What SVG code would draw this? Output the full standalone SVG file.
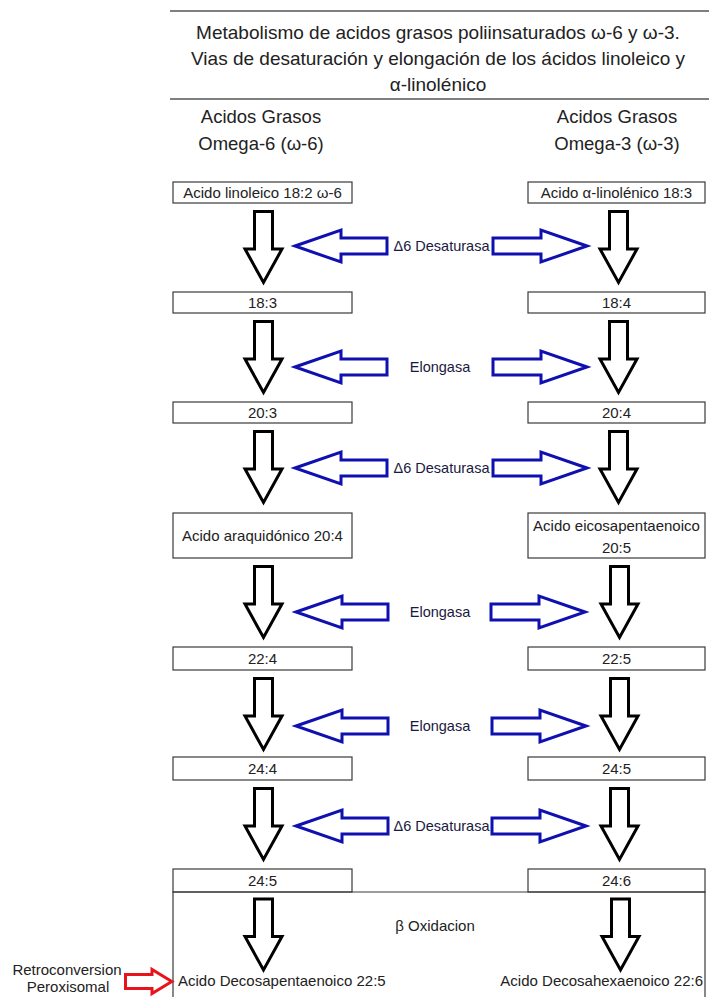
<svg xmlns="http://www.w3.org/2000/svg" xmlns:xlink="http://www.w3.org/1999/xlink" width="709" height="997" viewBox="0 0 709 997">
<style>
  text { font-family: "Liberation Sans", Arial, sans-serif; fill: #222; }
  .title { font-size: 18.5px; text-anchor: middle; }
  .big { font-size: 19px; }
  .box { fill: #fff; stroke: #3a3a3a; stroke-width: 1.2; }
  .bt { font-size: 15px; text-anchor: middle; }
  .lbl { font-size: 14.5px; text-anchor: middle; fill: #1a1a40; }
  .rule { stroke: #555; stroke-width: 1.5; }
  .down { fill: #fff; stroke: #000; stroke-width: 3; stroke-linejoin: miter; }
  .blue { fill: #fff; stroke: #1010b0; stroke-width: 3; stroke-linejoin: miter; }
  .red { fill: #fff; stroke: #e8141c; stroke-width: 3; stroke-linejoin: miter; }
</style>
<defs>
  <path id="dn" d="M-9,0 H9 V37.5 H18.5 L0,71 L-18.5,37.5 H-9 Z"/>
  <path id="lf" d="M0,0 L46,-16 V-8 H92 V8 H46 V16 Z"/>
  <path id="rt" d="M0,0 L-46,-16 V-8 H-94 V8 H-46 V16 Z"/>
</defs>
<rect width="709" height="997" fill="#fff"/>

<g id="title">
  <line class="rule" x1="170" y1="11" x2="709" y2="11"/>
  <text class="title big" x="438" y="38.5">Metabolismo de acidos grasos poliinsaturados ω-6 y ω-3.</text>
  <text class="title big" x="438" y="65">Vias de desaturación y elongación de los ácidos linoleico y</text>
  <text class="title big" x="438" y="91">α-linolénico</text>
  <line class="rule" x1="170" y1="99" x2="709" y2="99"/>
</g>
<g id="header-w6">
  <text class="title" x="261" y="123">Acidos Grasos</text>
  <text class="title" x="261" y="150">Omega-6 (ω-6)</text>
</g>
<g id="header-w3">
  <text class="title" x="617" y="123">Acidos Grasos</text>
  <text class="title" x="617" y="150">Omega-3 (ω-3)</text>
</g>

<g id="n-linoleico"><rect class="box" x="173" y="182" width="179" height="21"/><text class="bt" x="262.5" y="197.5">Acido linoleico 18:2 ω-6</text></g>
<g id="n-alinolenico"><rect class="box" x="528" y="182" width="177" height="21"/><text class="bt" x="616.5" y="197.5">Acido α-linolénico 18:3</text></g>
<g id="n-18-3"><rect class="box" x="173" y="292" width="179" height="21"/><text class="bt" x="262.5" y="307.5">18:3</text></g>
<g id="n-18-4"><rect class="box" x="528" y="292" width="177" height="21"/><text class="bt" x="616.5" y="307.5">18:4</text></g>
<g id="n-20-3"><rect class="box" x="173" y="402" width="179" height="21"/><text class="bt" x="262.5" y="417.5">20:3</text></g>
<g id="n-20-4"><rect class="box" x="528" y="402" width="177" height="21"/><text class="bt" x="616.5" y="417.5">20:4</text></g>
<g id="n-araquidonico"><rect class="box" x="173" y="513" width="179" height="45"/><text class="bt" x="262.5" y="541">Acido araquidónico 20:4</text></g>
<g id="n-epa"><rect class="box" x="528" y="513" width="177" height="45"/><text class="bt" x="616.5" y="531">Acido eicosapentaenoico</text><text class="bt" x="616.5" y="553">20:5</text></g>
<g id="n-22-4"><rect class="box" x="173" y="647" width="179" height="23"/><text class="bt" x="262.5" y="663.5">22:4</text></g>
<g id="n-22-5"><rect class="box" x="528" y="647" width="177" height="23"/><text class="bt" x="616.5" y="663.5">22:5</text></g>
<g id="n-24-4"><rect class="box" x="173" y="757" width="179" height="23"/><text class="bt" x="262.5" y="773.5">24:4</text></g>
<g id="n-24-5r"><rect class="box" x="528" y="757" width="177" height="23"/><text class="bt" x="616.5" y="773.5">24:5</text></g>
<g id="n-24-5"><rect class="box" x="173" y="869" width="179" height="23"/><text class="bt" x="262.5" y="885.5">24:5</text></g>
<g id="n-24-6"><rect class="box" x="528" y="869" width="177" height="23"/><text class="bt" x="616.5" y="885.5">24:6</text></g>
<g id="n-oxidacion">
  <path d="M173,997 V892 H705 V997" fill="none" stroke="#3a3a3a" stroke-width="1.2"/>
  <text class="bt" x="435" y="931">β Oxidacion</text>
</g>
<g id="n-dpa"><text x="178" y="986" style="font-size:15px">Acido Decosapentaenoico 22:5</text></g>
<g id="n-dha"><text x="703" y="986" style="font-size:15px;text-anchor:end">Acido Decosahexaenoico 22:6</text></g>
<g id="n-retro">
  <text x="67" y="975" style="font-size:15px;text-anchor:middle">Retroconversion</text>
  <text x="68" y="992" style="font-size:15px;text-anchor:middle">Peroxisomal</text>
</g>

<g id="connectors">
  <use xlink:href="#dn" class="down" x="263.5" y="211.5"/>
  <use xlink:href="#dn" class="down" x="618.5" y="211.5"/>
  <use xlink:href="#dn" class="down" x="263.5" y="321.5"/>
  <use xlink:href="#dn" class="down" x="618.5" y="321.5"/>
  <use xlink:href="#dn" class="down" x="263.5" y="431.5"/>
  <use xlink:href="#dn" class="down" x="618.5" y="431.5"/>
  <use xlink:href="#dn" class="down" x="263.5" y="566.5"/>
  <use xlink:href="#dn" class="down" x="619.5" y="566.5"/>
  <use xlink:href="#dn" class="down" x="263.5" y="678.5"/>
  <use xlink:href="#dn" class="down" x="619.5" y="678.5"/>
  <use xlink:href="#dn" class="down" x="263.5" y="788.5"/>
  <use xlink:href="#dn" class="down" x="619.5" y="788.5"/>
  <use xlink:href="#dn" class="down" x="263.5" y="899"/>
  <use xlink:href="#dn" class="down" x="620.5" y="899"/>

  <use xlink:href="#lf" class="blue" x="295" y="246"/>
  <use xlink:href="#rt" class="blue" x="587" y="246"/>
  <use xlink:href="#lf" class="blue" x="295" y="367"/>
  <use xlink:href="#rt" class="blue" x="587" y="367"/>
  <use xlink:href="#lf" class="blue" x="295" y="468"/>
  <use xlink:href="#rt" class="blue" x="587" y="468"/>
  <use xlink:href="#lf" class="blue" x="296" y="612"/>
  <use xlink:href="#rt" class="blue" x="585" y="612"/>
  <use xlink:href="#lf" class="blue" x="296" y="726"/>
  <use xlink:href="#rt" class="blue" x="586" y="726"/>
  <use xlink:href="#lf" class="blue" x="296" y="826"/>
  <use xlink:href="#rt" class="blue" x="586" y="826"/>

  <path class="red" d="M171.8,981.5 L152,969.5 V974.5 H125.5 V988.5 H152 V993.5 Z"/>

  <text class="lbl" x="441.5" y="251">Δ6 Desaturasa</text>
  <text class="lbl" x="440" y="372">Elongasa</text>
  <text class="lbl" x="441.5" y="473">Δ6 Desaturasa</text>
  <text class="lbl" x="440" y="617">Elongasa</text>
  <text class="lbl" x="440" y="731">Elongasa</text>
  <text class="lbl" x="441.5" y="831">Δ6 Desaturasa</text>
</g>
</svg>
